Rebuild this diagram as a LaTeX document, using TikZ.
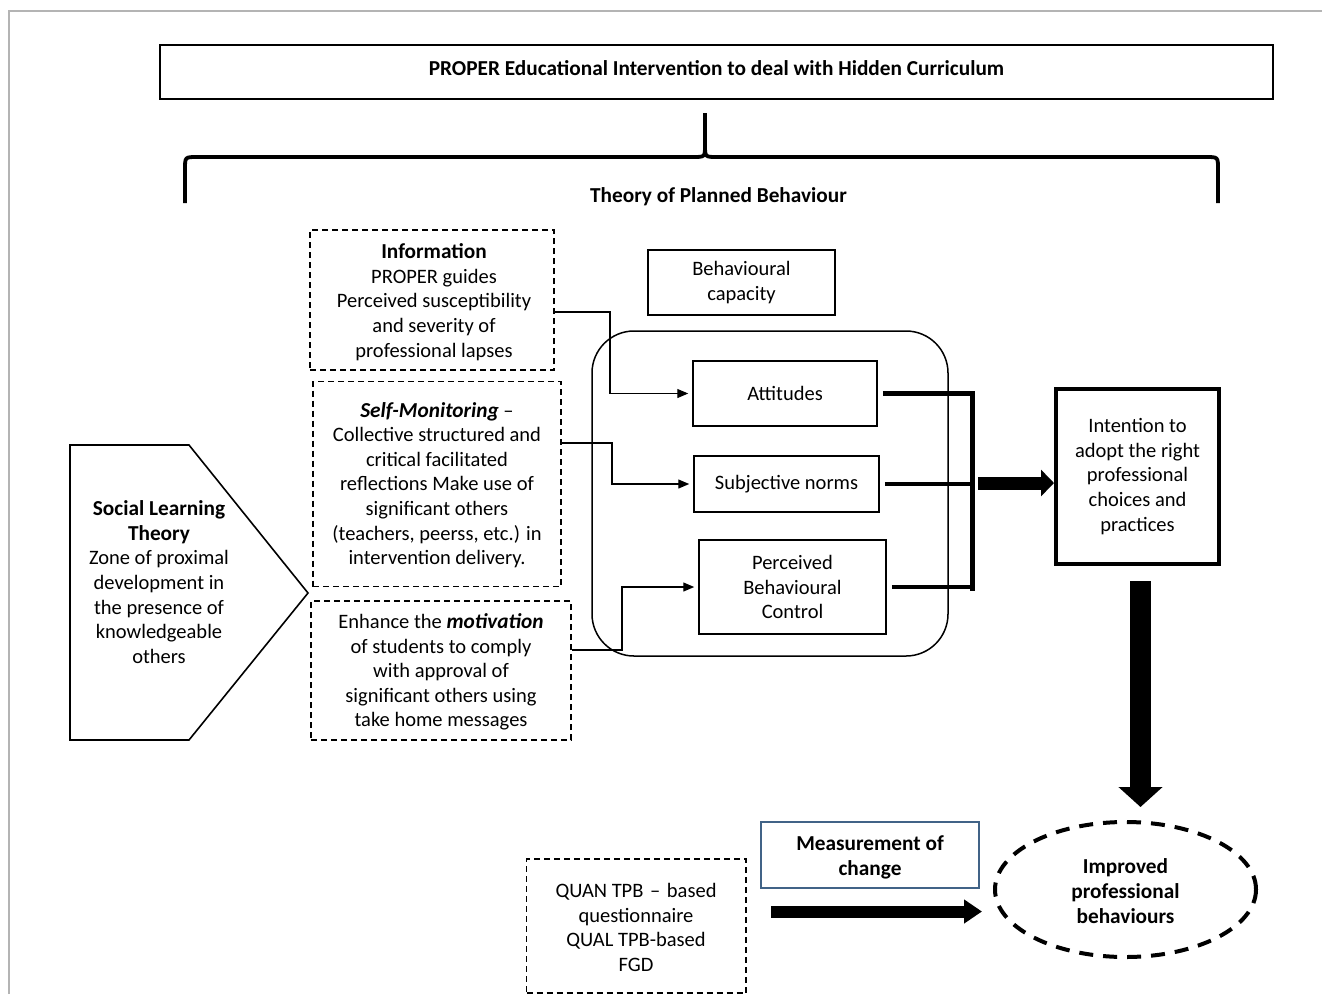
\documentclass[tikz,border=0pt]{standalone}
\usepackage{fontspec}
\setmainfont{Carlito}
\usetikzlibrary{arrows.meta,calc}
\definecolor{slateb}{RGB}{65,99,135}
\definecolor{framegray}{RGB}{180,180,180}
\newcommand\bsz{\fontsize{21.3}{24.6}\selectfont\bfseries}
\tikzset{
  base/.style={font=\fontsize{20.5}{24.6}\selectfont, align=center, inner sep=0pt},
  boldbase/.style={base, font=\fontsize{21.3}{25}\selectfont\bfseries},
  solidbox/.style={base, draw, line width=1.5pt, rectangle},
  dashbox/.style={base, draw, line width=1.5pt, rectangle, dash pattern=on 6pt off 4pt},
  conn/.style={line width=1.3pt, -{Triangle[length=11pt,width=9pt]}, shorten >=4pt},
  thickln/.style={line width=4.5pt, shorten <=5pt},
  bigarrow/.style={line width=13pt, -{Triangle[length=13pt,width=26pt]}},
}
\begin{document}
\begin{tikzpicture}[x=1pt,y=-1pt]
\useasboundingbox (0,0) rectangle (1322,994);
% frame lines
\draw[framegray, line width=2pt] (9,994) -- (9,11) -- (1322,11);

% title
\node[solidbox, line width=2pt, minimum width=1113pt, minimum height=54pt] (title) at (716.5,72) {};
\node[boldbase] (titletext) at (716.5,68) {PROPER Educational Intervention to deal with Hidden Curriculum};

% brace
\coordinate (bl) at (185,203);
\coordinate (br) at (1218,203);
\coordinate (btip) at (705,113);
\draw[line width=3.8pt] (bl) -- (185,169) .. controls (185,157) .. (197,157) -- (693,157) .. controls (705,157) .. (705,145) -- (btip);
\draw[line width=3.8pt] (705,145) .. controls (705,157) .. (717,157) -- (1206,157) .. controls (1218,157) .. (1218,169) -- (br);
\node[boldbase] (tpb) at (718.5,197) {Theory of Planned Behaviour};

% left dashed boxes
\node[dashbox, minimum width=244pt, minimum height=140pt] (info) at (432,300) {};
\node[base] (infotext) at (434,302) {{\bsz Information}\\PROPER guides\\Perceived susceptibility\\and severity of\\professional lapses};

\node[dashbox, minimum width=248pt, minimum height=205pt] (selfm) at (437,484) {};
\node[base] (selfmtext) at (437,485) {{\bsz\itshape Self-Monitoring} –\\Collective structured and\\critical facilitated\\reflections Make use of\\significant others\\(teachers, peerss, etc.) in\\intervention delivery.};

\node[dashbox, minimum width=260pt, minimum height=139pt] (motiv) at (441,670.5) {};
\node[base] (motivtext) at (441,672) {Enhance the {\bsz\itshape motivation}\\of students to comply\\with approval of\\significant others using\\take home messages};

% social learning pentagon
\draw[line width=1.6pt] (70,445) -- (189,445) -- (308,593) -- (189,740) -- (70,740) -- cycle;
\node[base] (slt) at (159,582) {{\bsz Social Learning}\\{\bsz Theory}\\Zone of proximal\\development in\\the presence of\\knowledgeable\\others};

% behavioural capacity
\node[solidbox, minimum width=187pt, minimum height=65pt] (bcap) at (741.5,282.5) {Behavioural\\capacity};

% container
\draw[line width=1.5pt, rounded corners=42pt] (592,331) rectangle (948,656);

\node[solidbox, minimum width=184pt, minimum height=65pt] (att) at (785,393.5) {Attitudes};
\node[solidbox, minimum width=185pt, minimum height=56pt] (sn) at (786.5,484) {Subjective norms};
\node[solidbox, minimum width=187pt, minimum height=94pt] (pbc) at (792.5,587) {Perceived\\Behavioural\\Control};

% connectors from left boxes
\draw[conn] (info.east |- 0,312) -- (610,312) |- (att.west);
\draw[conn] (selfm.east |- 0,443) -- (612,443) |- (sn.west);
\draw[conn] (motiv.east |- 0,650) -- (622,650) |- (pbc.west);

% thick lines to bar
\coordinate (barx) at (972,0);
\coordinate (bartop) at (972,391);
\coordinate (barbot) at (972,591);
\draw[thickln] (att.east) -- (att.east -| barx);
\draw[thickln] (sn.east) -- (sn.east -| barx);
\draw[thickln] (pbc.east) -- (pbc.east -| barx);
\draw[line width=5pt] (bartop) -- (barbot);

% intention
\node[solidbox, line width=4pt, minimum width=163pt, minimum height=175pt] (intent) at (1137.5,476.5) {Intention to\\adopt the right\\professional\\choices and\\practices};

\coordinate (astart) at (978,483);
\draw[bigarrow] (astart) -- (astart -| intent.west);

% down arrow
\coordinate (dtop) at (1140.5,581);
\coordinate (dbot) at (1140.5,807);
\draw[line width=21pt, -{Triangle[length=20pt,width=43pt]}] (dtop) -- (dbot);

% ellipse
\draw[line width=4pt, dash pattern=on 14pt off 10pt] (1125.5,889.5) ellipse [x radius=130.5pt, y radius=67.5pt];
\node[boldbase] (impr) at (1125.5,891) {Improved\\professional\\behaviours};

% measurement
\node[solidbox, draw=slateb, line width=1.5pt, minimum width=218pt, minimum height=66pt] (meas) at (870,855) {};
\node[boldbase] (meastext) at (870,857) {Measurement of\\change};

% QUAN box
\node[dashbox, minimum width=219.5pt, minimum height=134pt] (quan) at (636.25,926) {};
\node[base] (quantext) at (636,927.5) {QUAN TPB \hspace{2pt}–\hspace{2pt} based\\questionnaire\\QUAL TPB-based\\FGD};

\coordinate (hstart) at (771,911.5);
\coordinate (hend) at (982,911.5);
\draw[line width=12pt, -{Triangle[length=18pt,width=23pt]}] (hstart) -- (hend);
\end{tikzpicture}
\end{document}
